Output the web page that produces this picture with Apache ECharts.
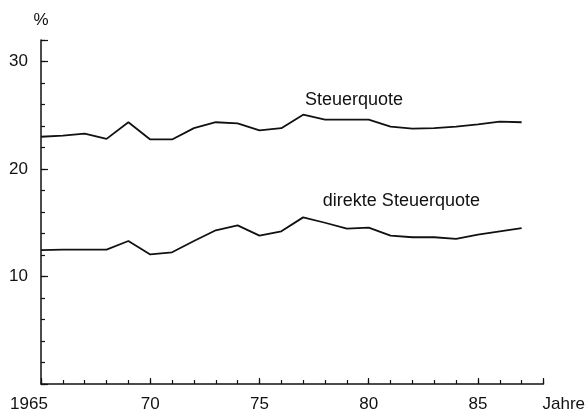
<!DOCTYPE html>
<html lang="de">
<head>
<meta charset="UTF-8">
<title>Steuerquote</title>
<script src="https://cdn.jsdelivr.net/npm/echarts@6/dist/echarts.min.js"></script>
<style>
  html, body { margin: 0; padding: 0; background: #fff; }
  #main { width: 588px; height: 413px; }
</style>
</head>
<body>
<div id="main"></div>
<script>
// Jahre und Werte (in %)
var years = [1965, 1966, 1967, 1968, 1969, 1970, 1971, 1972, 1973, 1974, 1975, 1976,
             1977, 1978, 1979, 1980, 1981, 1982, 1983, 1984, 1985, 1986, 1987];
var steuerquote = [23.0, 23.1, 23.3, 22.8, 24.35, 22.75, 22.75, 23.8, 24.35, 24.25, 23.6, 23.8,
                   25.05, 24.6, 24.6, 24.6, 23.95, 23.75, 23.8, 23.95, 24.15, 24.4, 24.35];
var direkteQuote = [12.45, 12.5, 12.5, 12.5, 13.3, 12.05, 12.25, 13.3, 14.3, 14.75, 13.8, 14.2,
                    15.5, 15.0, 14.45, 14.55, 13.8, 13.65, 13.65, 13.5, 13.9, 14.2, 14.5];
var xLabelYears = [1965, 1970, 1975, 1980, 1985];
var yLabelValues = [10, 20, 30];

var FONT = 'Liberation Sans, Arial, sans-serif';
var INK = '#111';

function toPairs(vals, labelIdx, labelText, offset) {
    return years.map(function (y, i) {
        var item = { value: [y, vals[i]] };
        if (i === labelIdx) {
            item.symbol = 'circle';
            item.symbolSize = 0;
            item.label = {
                show: true, position: 'top', offset: offset,
                formatter: labelText, color: INK, fontSize: 18, fontFamily: FONT
            };
        }
        return item;
    });
}

var myChart = echarts.init(document.getElementById('main'));
myChart.setOption({
    backgroundColor: '#fff',
    animation: false,
    grid: { left: 41, right: 44, top: 40, bottom: 29 },
    xAxis: [{
        type: 'value', min: 1965, max: 1988, interval: 1,
        axisLine: { show: true, lineStyle: { color: INK, width: 1.5 } },
        axisTick: { show: true, inside: true, length: 4, lineStyle: { color: INK, width: 1.2 } },
        splitLine: { show: false },
        axisLabel: {
            margin: 12, color: INK, fontSize: 17, fontFamily: FONT,
            formatter: function (v) {
                if (xLabelYears.indexOf(v) < 0) return '';
                if (v === 1965) return '{first|1965}';
                return String(v).slice(2);
            },
            rich: { first: { fontSize: 17, fontFamily: FONT, color: INK, padding: [0, 24, 0, 0] } }
        },
        name: 'Jahre', nameLocation: 'end', nameGap: -1,
        nameTextStyle: { color: INK, fontSize: 17, fontFamily: FONT, align: 'left',
                         verticalAlign: 'top', padding: [12, 0, 0, 0] }
    }, {
        type: 'value', min: 1965, max: 1988, interval: 5, position: 'bottom',
        axisLine: { show: false },
        axisTick: { show: true, inside: true, length: 6, lineStyle: { color: INK, width: 1.2 } },
        axisLabel: { show: false }, splitLine: { show: false }
    }],
    yAxis: [{
        type: 'value', min: 0, max: 32, interval: 2,
        axisLine: { show: true, lineStyle: { color: INK, width: 1.5 } },
        axisTick: { show: true, inside: true, length: 4, lineStyle: { color: INK, width: 1.2 } },
        splitLine: { show: false },
        axisLabel: {
            margin: 13, color: INK, fontSize: 17, fontFamily: FONT,
            formatter: function (v) { return yLabelValues.indexOf(v) >= 0 ? String(v) : ''; }
        },
        name: '%', nameLocation: 'end', nameGap: 11,
        nameTextStyle: { color: INK, fontSize: 17, fontFamily: FONT }
    }, {
        type: 'value', min: 0, max: 32, interval: 10, position: 'left',
        axisLine: { show: false },
        axisTick: { show: true, inside: true, length: 7, lineStyle: { color: INK, width: 1.2 } },
        axisLabel: { show: false }, splitLine: { show: false }
    }],
    series: [{
        name: 'Steuerquote', type: 'line', symbol: 'none',
        lineStyle: { color: INK, width: 1.8 }, itemStyle: { color: INK },
        data: toPairs(steuerquote, 13, 'Steuerquote', [29, -6])
    }, {
        name: 'direkte Steuerquote', type: 'line', symbol: 'none',
        lineStyle: { color: INK, width: 1.8 }, itemStyle: { color: INK },
        data: toPairs(direkteQuote, 17, 'direkte Steuerquote', [-11, -22])
    }]
});
</script>
</body>
</html>
